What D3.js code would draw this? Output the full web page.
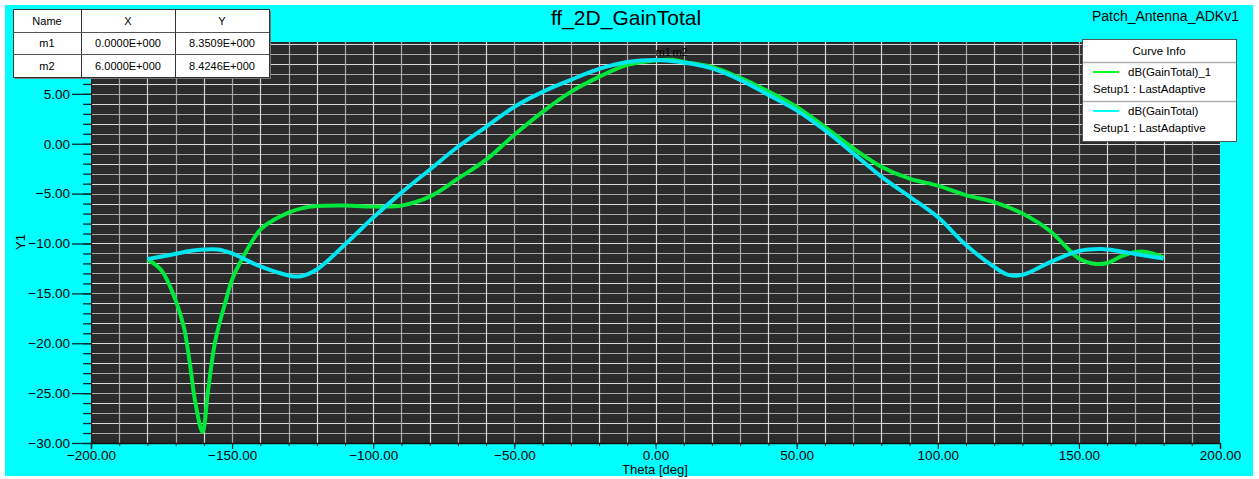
<!DOCTYPE html>
<html>
<head>
<meta charset="utf-8">
<script src="https://cdn.jsdelivr.net/npm/d3@7"></script>
<style>
  body { margin: 0; background: #fff; }
  text { font-family: "Liberation Sans", Arial, sans-serif; fill: #000; }
</style>
</head>
<body>
<div id="chart"></div>
<script>
// data: theta (deg) and gain (dB)
var greenTheta = [-180, -175, -170, -167, -165, -163, -160.5, -158.5, -156, -152, -150, -146, -140, -135, -130, -125, -120, -110, -100, -95, -90, -80, -70, -60, -50, -40, -30, -20, -10, 0, 6, 10, 20, 30, 40, 50, 60, 70, 80, 90, 100, 110, 120, 130, 140, 146, 150, 156, 160, 165, 170, 174, 180];
var greenGain = [-11.6, -12.7, -15.7, -18.5, -22, -26, -28.9, -24.7, -19.8, -15.5, -13.6, -11.3, -8.6, -7.6, -6.9, -6.45, -6.25, -6.2, -6.3, -6.3, -6.2, -5.3, -3.5, -1.6, 0.9, 3.2, 5.2, 6.7, 7.9, 8.35, 8.42, 8.2, 7.7, 6.6, 5.25, 3.7, 1.7, -0.45, -2.3, -3.5, -4.2, -5.15, -5.85, -7.0, -8.8, -10.5, -11.5, -12.05, -11.95, -11.3, -10.85, -10.85, -11.4];

var cyanTheta = [-180, -172, -165, -160, -155, -150, -140, -130, -126, -120, -110, -100, -90, -80, -70, -60, -50, -40, -30, -20, -10, 0, 10, 20, 30, 40, 50, 60, 70, 80, 90, 100, 110, 120, 125, 130, 140, 150, 158, 164, 170, 180];
var cyanGain = [-11.55, -11.15, -10.75, -10.6, -10.6, -11.0, -12.3, -13.2, -13.3, -12.6, -10.1, -7.4, -4.9, -2.6, -0.3, 1.7, 3.7, 5.2, 6.4, 7.5, 8.2, 8.4, 8.15, 7.55, 6.4, 4.9, 3.35, 1.35, -0.95, -3.3, -5.3, -7.35, -10.15, -12.35, -13.15, -13.15, -11.85, -10.75, -10.55, -10.75, -11.05, -11.5];

var markerNames = ["m1", "m2"];
var markerX = [0, 6];
var markerY = [8.3509, 8.4246];
var markerXText = ["0.0000E+000", "6.0000E+000"];
var markerYText = ["8.3509E+000", "8.4246E+000"];

var yMajor = [-30, -25, -20, -15, -10, -5, 0, 5];
var xMajor = [-200, -150, -100, -50, 0, 50, 100, 150, 200];

var width = 1259, height = 479;

var svg = d3.select("#chart").append("svg")
    .attr("width", width)
    .attr("height", height);

// cyan frame
svg.append("rect")
    .attr("x", 5).attr("y", 5)
    .attr("width", 1248).attr("height", 471)
    .attr("fill", "#00ffff");

var xScale = d3.scaleLinear().domain([-200, 200]).range([91, 1220]);
var yScale = d3.scaleLinear().domain([-30, 10.2]).range([443, 42]);

// plot background
svg.append("rect")
    .attr("x", xScale(-200)).attr("y", yScale(10.2))
    .attr("width", xScale(200) - xScale(-200))
    .attr("height", yScale(-30) - yScale(10.2))
    .attr("fill", "#2b2b2b");

// grid
var grid = svg.append("g").attr("class", "grid");
grid.selectAll("line.h")
    .data(d3.range(-29, 11))
    .enter().append("line")
    .attr("x1", xScale(-200)).attr("x2", xScale(200))
    .attr("y1", function(d){ return Math.round(yScale(d)) + 0.5; })
    .attr("y2", function(d){ return Math.round(yScale(d)) + 0.5; })
    .attr("stroke", function(d){ return d % 2 === 0 ? "#d8d8d8" : "#a8a8a8"; })
    .attr("stroke-width", 1.2);

grid.selectAll("line.v")
    .data(d3.range(-190, 200, 10))
    .enter().append("line")
    .attr("y1", yScale(10.2)).attr("y2", yScale(-30))
    .attr("x1", function(d){ return Math.round(xScale(d)) + 0.5; })
    .attr("x2", function(d){ return Math.round(xScale(d)) + 0.5; })
    .attr("stroke", function(d){ return d % 20 === 0 ? "#d8d8d8" : "#a8a8a8"; })
    .attr("stroke-width", 1.2);

// axes
var yAxisMinor = d3.axisLeft(yScale).tickValues(d3.range(-30, 11)).tickSize(8).tickFormat("");
var yAxis = d3.axisLeft(yScale).tickValues(yMajor).tickSize(19).tickPadding(2).tickFormat(d3.format(".2f"));

svg.append("g").attr("transform", "translate(91,0)").call(yAxisMinor)
    .call(function(g){ g.select(".domain").remove(); })
    .selectAll("line").attr("stroke", "#0d2b2b").attr("stroke-width", 1.3);
var yG = svg.append("g").attr("transform", "translate(91,0)").call(yAxis);
yG.select(".domain").attr("stroke", "#111");
yG.selectAll("line").attr("stroke", "#0d2b2b").attr("stroke-width", 1.3);
yG.selectAll("text").attr("font-size", 13.5).attr("font-family", "Liberation Sans, Arial, sans-serif").attr("fill", "#000");

var xAxisMinor = d3.axisBottom(xScale).tickValues(d3.range(-200, 201, 10)).tickSize(3).tickFormat("");
var xAxis = d3.axisBottom(xScale).tickValues(xMajor).tickSize(6).tickPadding(1).tickFormat(d3.format(".2f"));

svg.append("g").attr("transform", "translate(0,443)").call(xAxisMinor)
    .call(function(g){ g.select(".domain").remove(); })
    .selectAll("line").attr("stroke", "#111");
var xG = svg.append("g").attr("transform", "translate(0,443)").call(xAxis);
xG.select(".domain").attr("stroke", "#111").attr("stroke-width", 1.5);
xG.selectAll("line").attr("stroke", "#111");
xG.selectAll("text").attr("font-size", 13.5).attr("font-family", "Liberation Sans, Arial, sans-serif").attr("fill", "#000");

svg.append("text")
    .attr("x", 655).attr("y", 474)
    .attr("text-anchor", "middle")
    .attr("font-size", 13)
    .text("Theta [deg]");

svg.append("text")
    .attr("transform", "translate(25,242) rotate(-90)")
    .attr("text-anchor", "middle")
    .attr("font-size", 13)
    .text("Y1");

// curves
var line = d3.line()
    .x(function(d){ return xScale(d[0]); })
    .y(function(d){ return yScale(d[1]); })
    .curve(d3.curveCatmullRom.alpha(0.5));

var greenData = greenTheta.map(function(t, i){ return [t, greenGain[i]]; });
var cyanData = cyanTheta.map(function(t, i){ return [t, cyanGain[i]]; });

svg.append("path")
    .datum(greenData)
    .attr("d", line)
    .attr("fill", "none")
    .attr("stroke", "#00e83c")
    .attr("stroke-width", 4)
    .attr("stroke-linejoin", "round");

svg.append("path")
    .datum(cyanData)
    .attr("d", line)
    .attr("fill", "none")
    .attr("stroke", "#00e6f0")
    .attr("stroke-width", 4)
    .attr("stroke-linejoin", "round");

// marker labels
svg.selectAll("text.mk")
    .data(markerNames)
    .enter().append("text")
    .attr("class", "mk")
    .attr("x", function(d, i){ return xScale(markerX[i]); })
    .attr("y", function(d, i){ return yScale(markerY[i]) - 4; })
    .attr("font-size", 11)
    .attr("fill", "#111")
    .text(function(d){ return d; });

// title texts
svg.append("text")
    .attr("x", 626).attr("y", 25)
    .attr("text-anchor", "middle")
    .attr("font-size", 21)
    .text("ff_2D_GainTotal");

svg.append("text")
    .attr("x", 1239).attr("y", 21)
    .attr("text-anchor", "end")
    .attr("font-size", 14)
    .text("Patch_Antenna_ADKv1");

// marker table
var colX = [13, 81, 175, 269];
var rowY = [9, 32, 54, 77];
var tbl = svg.append("g");
tbl.append("rect")
    .attr("x", colX[0] + 2).attr("y", rowY[0] + 2)
    .attr("width", colX[3] - colX[0]).attr("height", rowY[3] - rowY[0])
    .attr("fill", "#777");
tbl.append("rect")
    .attr("x", colX[0] + 0.5).attr("y", rowY[0] + 0.5)
    .attr("width", colX[3] - colX[0]).attr("height", rowY[3] - rowY[0])
    .attr("fill", "#fff").attr("stroke", "#333");
[1, 2].forEach(function(i){
    tbl.append("line").attr("x1", colX[i] + 0.5).attr("x2", colX[i] + 0.5)
        .attr("y1", rowY[0]).attr("y2", rowY[3]).attr("stroke", "#333");
    tbl.append("line").attr("x1", colX[0]).attr("x2", colX[3])
        .attr("y1", rowY[i] + 0.5).attr("y2", rowY[i] + 0.5).attr("stroke", "#555");
});
var tableRows = [["Name", "X", "Y"]].concat(markerNames.map(function(n, i){
    return [n, markerXText[i], markerYText[i]];
}));
tableRows.forEach(function(row, r){
    row.forEach(function(cell, c){
        tbl.append("text")
            .attr("x", (colX[c] + colX[c + 1]) / 2)
            .attr("y", (rowY[r] + rowY[r + 1]) / 2 + 4)
            .attr("text-anchor", "middle")
            .attr("font-size", 11)
            .text(cell);
    });
});

// legend
var legendNames = ["dB(GainTotal)_1", "dB(GainTotal)"];
var legendColors = ["#00ff22", "#00ffff"];
var lg = svg.append("g");
lg.append("rect")
    .attr("x", 1082.5).attr("y", 39.5)
    .attr("width", 154).attr("height", 102)
    .attr("fill", "#fff").attr("stroke", "#555");
lg.append("text")
    .attr("x", 1159).attr("y", 55)
    .attr("text-anchor", "middle")
    .attr("font-size", 11.5)
    .text("Curve Info");
[62, 101].forEach(function(y){
    lg.append("line").attr("x1", 1083).attr("x2", 1236)
        .attr("y1", y + 0.5).attr("y2", y + 0.5)
        .attr("stroke", "#b0b0b0").attr("stroke-width", 1.5);
});
legendNames.forEach(function(n, i){
    var y0 = 62 + i * 39;
    lg.append("line")
        .attr("x1", 1093).attr("x2", 1119)
        .attr("y1", y0 + 10).attr("y2", y0 + 10)
        .attr("stroke", legendColors[i]).attr("stroke-width", 2);
    lg.append("text")
        .attr("x", 1128).attr("y", y0 + 14)
        .attr("font-size", 11.5)
        .text(n);
    lg.append("text")
        .attr("x", 1093).attr("y", y0 + 31)
        .attr("font-size", 11.5)
        .text("Setup1 : LastAdaptive");
});
</script>
</body>
</html>
